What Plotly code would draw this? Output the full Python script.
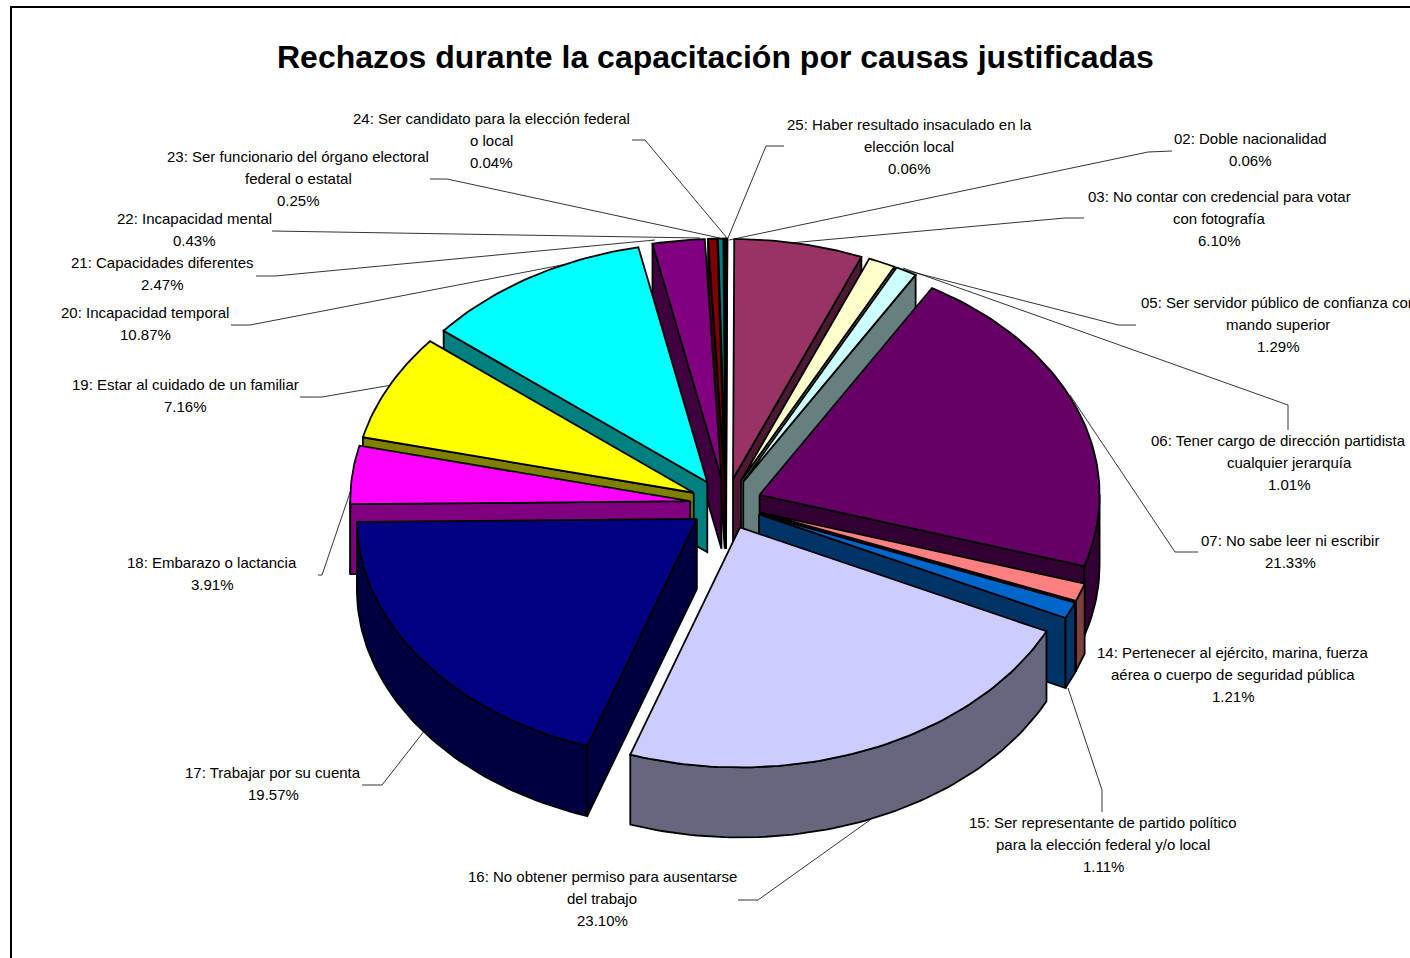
import math
import plotly.graph_objects as go

TITLE = "Rechazos durante la capacitación por causas justificadas"
names = [
    "02: Doble nacionalidad",
    "03: No contar con credencial para votar<br>con fotografía",
    "05: Ser servidor público de confianza con<br>mando superior",
    "06: Tener cargo de dirección partidista<br>cualquier jerarquía",
    "07: No sabe leer ni escribir",
    "14: Pertenecer al ejército, marina, fuerza<br>aérea o cuerpo de seguridad pública",
    "15: Ser representante de partido político<br>para la elección federal y/o local",
    "16: No obtener permiso para ausentarse<br>del trabajo",
    "17: Trabajar por su cuenta",
    "18: Embarazo o lactancia",
    "19: Estar al cuidado de un familiar",
    "20: Incapacidad temporal",
    "21: Capacidades diferentes",
    "22: Incapacidad mental",
    "23: Ser funcionario del órgano electoral<br>federal o estatal",
    "24: Ser candidato para la elección federal<br>o local",
    "25: Haber resultado insaculado en la<br>elección local",
]
values = [0.06, 6.10, 1.29, 1.01, 21.33, 1.21, 1.11, 23.10, 19.57, 3.91, 7.16, 10.87, 2.47, 0.43, 0.25, 0.04, 0.06]
colors = ["#9999FF", "#993366", "#FFFFCC", "#CCFFFF", "#660066", "#FF8080", "#0066CC", "#CCCCFF",
          "#000080", "#FF00FF", "#FFFF00", "#00FFFF", "#800080", "#800000", "#008080", "#0000FF", "#00CCFF"]

# label centre x (one per line, or one for the whole label), first-line centre y
label_pos = [(1250, 138), (1219, 196), (1278, 302), ([1278, 1289, 1289], 440), (1290, 540), (1233, 652),
             (1103, 822), (602, 876), (273, 772), (212, 562), (185, 384), (145, 312), (162, 262), (194, 218),
             (298, 156), (491, 118), (909, 124)]
# leader polylines in page pixels
leaders = [
    [(1172, 151), (1148, 152), (729, 240)],
    [(1084, 218), (1065, 218), (790, 243)],
    [(1136, 325), (1118, 325), (893, 267)],
    [(1288, 430), (1288, 405), (903, 268)],
    [(1198, 552), (1175, 552), (1070, 395)],
    [(1102, 812), (1102, 790), (1068, 688)],
    [(738, 900), (758, 900), (870, 820)],
    [(362, 785), (382, 785), (425, 730)],
    [(318, 575), (322, 575), (355, 478)],
    [(300, 397), (322, 397), (392, 385)],
    [(231, 325), (250, 325), (640, 250)],
    [(256, 276), (275, 276), (655, 240)],
    [(272, 231), (700, 238)],
    [(430, 179), (447, 179), (720, 238)],
    [(632, 140), (645, 140), (727, 238)],
    [(784, 146), (766, 146), (728, 238)],
]

CX, CY, RX, RY, PULL, DEPTH = 726, 504, 340, 240, 36, 70
RATIO = RY / RX
FONT = "Liberation Sans, Arial, sans-serif"


def shade(hex_color):
    r, g, b = (int(hex_color[i:i + 2], 16) for i in (1, 3, 5))
    return f"rgb({r // 2},{g // 2},{b // 2})"


total = sum(values)
slices = []
acc = 0.0
for i, v in enumerate(values):
    a0 = acc / total * 2 * math.pi
    acc += v
    a1 = acc / total * 2 * math.pi
    mid = (a0 + a1) / 2
    tx = CX + PULL * math.sin(mid)
    ty = CY - PULL * RATIO * math.cos(mid)
    slices.append(dict(i=i, a0=a0, a1=a1, mid=mid, tx=tx, ty=ty))


def rim(s, t, dz=0.0):
    return s["tx"] + RX * math.sin(t), s["ty"] - RY * math.cos(t) + dz


def arc(s, t0, t1, dz=0.0):
    n = max(2, int(abs(t1 - t0) / 0.02))
    return [rim(s, t0 + (t1 - t0) * k / n, dz) for k in range(n + 1)]


def face(fig, pts, color):
    xs = [p[0] for p in pts] + [pts[0][0]]
    ys = [p[1] for p in pts] + [pts[0][1]]
    fig.add_trace(go.Scatter(x=xs, y=ys, mode="lines", fill="toself", fillcolor=color,
                             line=dict(color="black", width=1.8), hoverinfo="skip", showlegend=False))


fig = go.Figure()
for s in sorted(slices, key=lambda q: -math.cos(q["mid"])):
    col = colors[s["i"]]
    dark = shade(col)
    tip = (s["tx"], s["ty"])
    tip2 = (s["tx"], s["ty"] + DEPTH)
    # cut faces
    if math.sin(s["a0"]) < 0:
        face(fig, [tip, rim(s, s["a0"]), rim(s, s["a0"], DEPTH), tip2], dark)
    if math.sin(s["a1"]) > 0:
        face(fig, [tip, rim(s, s["a1"]), rim(s, s["a1"], DEPTH), tip2], dark)
    # outer wall
    lo, hi = max(s["a0"], math.pi / 2), min(s["a1"], 3 * math.pi / 2)
    if hi > lo:
        face(fig, arc(s, lo, hi) + arc(s, hi, lo, DEPTH), dark)
    # top
    face(fig, [tip] + arc(s, s["a0"], s["a1"]), col)

shapes = [dict(type="rect", xref="x", yref="y", x0=11, y0=7, x1=1500, y1=1100,
               line=dict(color="black", width=2), layer="below")]
for poly in leaders:
    for (x0, y0), (x1, y1) in zip(poly, poly[1:]):
        shapes.append(dict(type="line", xref="x", yref="y", x0=x0, y0=y0, x1=x1, y1=y1,
                           line=dict(color="black", width=0.8), layer="below"))

annotations = [dict(text=f"<b>{TITLE}</b>", x=715, y=57, xref="x", yref="y", showarrow=False,
                    xanchor="center", yanchor="middle", font=dict(family=FONT, size=32, color="black"))]
for name, v, (x, y) in zip(names, values, label_pos):
    lines = name.split("<br>") + [f"{v:.2f}%"]
    xs = x if isinstance(x, list) else [x] * len(lines)
    for k, line in enumerate(lines):
        annotations.append(dict(text=line, x=xs[k], y=y + 22 * k, xref="x", yref="y", showarrow=False,
                                xanchor="center", yanchor="middle",
                                font=dict(family=FONT, size=15, color="black")))

fig.update_layout(
    width=1410, height=958, margin=dict(l=0, r=0, t=0, b=0, pad=0),
    paper_bgcolor="white", plot_bgcolor="white", showlegend=False,
    xaxis=dict(range=[0, 1410], visible=False, fixedrange=True),
    yaxis=dict(range=[958, 0], visible=False, fixedrange=True),
    shapes=shapes, annotations=annotations,
)
fig.write_html("out.html", config=dict(displayModeBar=False),
               post_script="document.body.style.margin='0';document.body.style.overflow='hidden';")
